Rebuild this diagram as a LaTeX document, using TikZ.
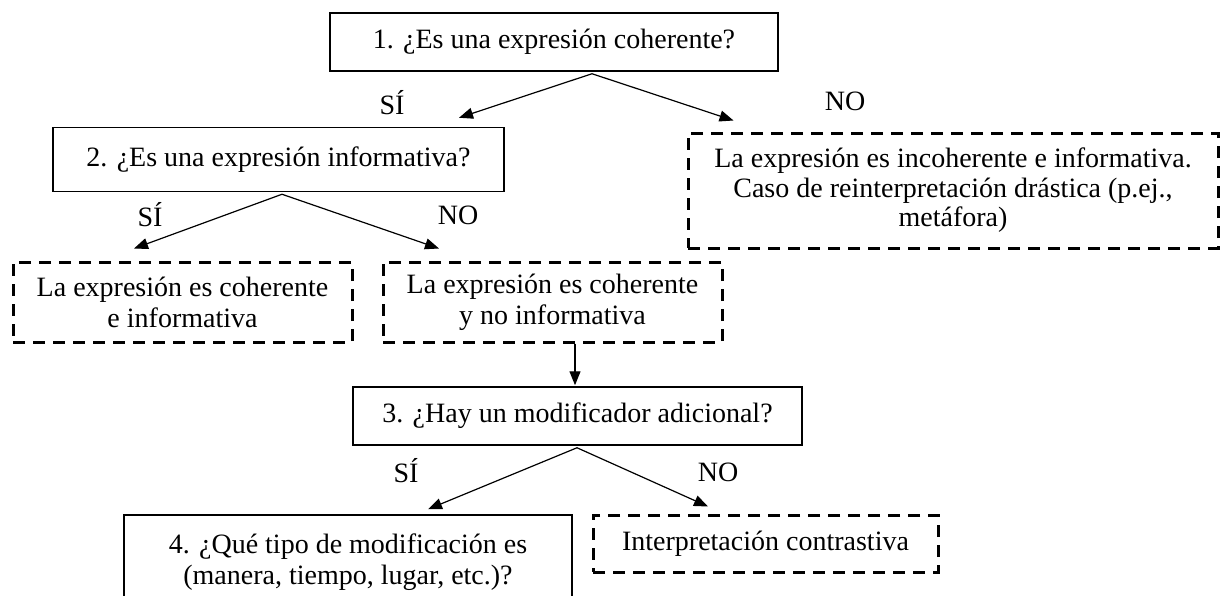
\documentclass[tikz,border=0pt]{standalone}
\usepackage{fontspec}
\setmainfont{Liberation Serif}
\usetikzlibrary{arrows.meta,calc}
\begin{document}
\begin{tikzpicture}[x=0.5pt,y=-0.5pt,
  txt/.style={font=\fontsize{14}{15.5}\selectfont},
  solidbox/.style={draw,line width=0.75pt,inner sep=0pt,align=center,txt},
  dashbox/.style={draw,line width=1.5pt,dash pattern=on 6pt off 4pt,inner sep=0pt,align=center,txt},
  arr/.style={line width=0.6pt,-{Triangle[length=7pt,width=5.5pt]}},
  lab/.style={txt,inner sep=0pt}]
\useasboundingbox (0,0) rectangle (1221,595);
\clip (0,0) rectangle (1221,595);
\fill[white] (0,0) rectangle (1221,595);

\node[solidbox,minimum width=224pt,minimum height=29pt] (b1) at (554,42) {1. ¿Es una expresión coherente?};
\node[solidbox,minimum width=225.5pt,minimum height=32pt] (b2) at (278.5,159.5) {2. ¿Es una expresión informativa?};
\node[dashbox,minimum width=265pt,minimum height=57.5pt,font=\fontsize{14}{14.8}\selectfont] (bB) at (953,190.5) {La expresión es incoherente e informativa.\\Caso de reinterpretación drástica (p.ej.,\\metáfora)};
\node[dashbox,minimum width=169.5pt,minimum height=40pt] (bA) at (182.5,302) {La expresión es coherente\\e informativa};
\node[dashbox,minimum width=169.5pt,minimum height=40pt] (bC) at (552.5,302) {La expresión es coherente\\y no informativa};
\node[solidbox,minimum width=224.5pt,minimum height=29pt] (b3) at (577.5,416) {3. ¿Hay un modificador adicional?};
\node[solidbox,minimum width=224pt,minimum height=47.5pt] (b4) at (348,562.5) {4. ¿Qué tipo de modificación es\\(manera, tiempo, lugar, etc.)?};
\node[dashbox,minimum width=172.5pt,minimum height=28.5pt] (bD) at (765.5,543.5) {Interpretación contrastiva};

\node[lab] (s1) at (392,103) {SÍ};
\node[lab] (n1) at (845,101) {NO};
\node[lab] (s2) at (150,215) {SÍ};
\node[lab] (n2) at (458,215) {NO};
\node[lab] (s3) at (406,471) {SÍ};
\node[lab] (n3) at (718,472) {NO};

\draw[arr] ($(b1.south)+(38,2)$) -- ($(b2.north)+(180.5,-9)$);
\draw[arr] ($(b1.south)+(38,2)$) -- ($(bB.north west)+(47,-11)$);
\draw[arr] ($(b2.south)+(3.5,2)$) -- ($(bA.north)+(-48.5,-12)$);
\draw[arr] ($(b2.south)+(3.5,2)$) -- ($(bC.north)+(-113.5,-12)$);
\draw[arr] ($(bC.south)+(22.5,0)$) -- ($(b3.north)+(-2.5,-1)$);
\draw[arr] ($(b3.south)+(-0.5,2)$) -- ($(b4.north)+(80,-5)$);
\draw[arr] ($(b3.south)+(-0.5,2)$) -- ($(bD.north)+(-57.5,-7)$);
\end{tikzpicture}
\end{document}
